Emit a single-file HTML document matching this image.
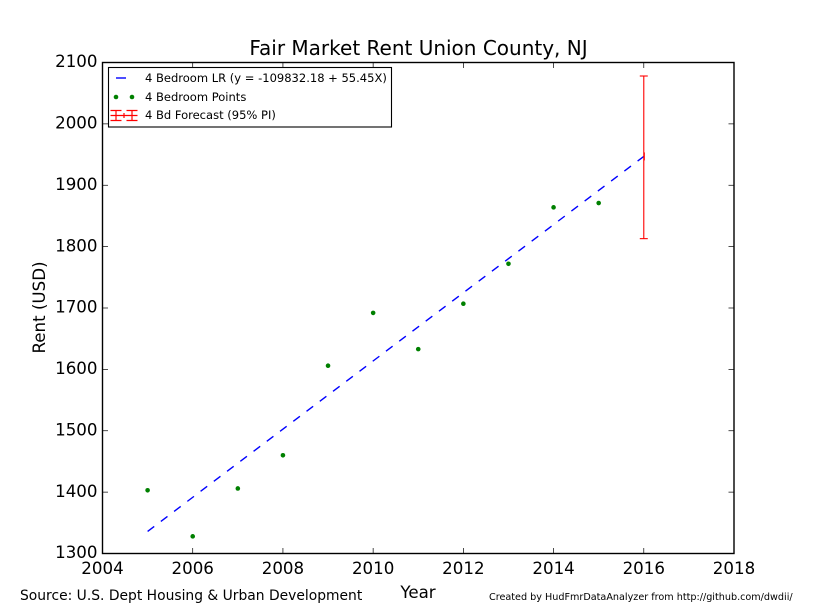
<!DOCTYPE html>
<html>
<head>
<meta charset="utf-8">
<style>
html,body{margin:0;padding:0;background:#fff;}
svg{display:block;font-family:"DejaVu Sans","Liberation Sans",sans-serif;}
</style>
</head>
<body>
<svg id="chart" width="815" height="615" viewBox="0 0 815 615" xmlns="http://www.w3.org/2000/svg">
<rect x="0" y="0" width="815" height="615" fill="#fff"/>
<text x="418.5" y="55" font-size="20" text-anchor="middle" fill="#000">Fair Market Rent Union County, NJ</text>
<g id="marks"></g>
<rect x="102.5" y="62.5" width="631.5" height="491" fill="none" stroke="#000" stroke-width="1.4"/>
<g id="ticks"></g>
<text x="418" y="598" font-size="16.67" text-anchor="middle" fill="#000">Year</text>
<text transform="translate(45 307.5) rotate(-90)" font-size="16.67" text-anchor="middle" fill="#000">Rent (USD)</text>
<g>
<rect x="108.5" y="67.5" width="283" height="59.5" fill="#fff" stroke="#000" stroke-width="1.1"/>
<line x1="116" y1="78" x2="126" y2="78" stroke="#00f" stroke-width="1.4"/>
<text x="145" y="82" font-size="11.53" fill="#000">4 Bedroom LR (y = -109832.18 + 55.45X)</text>
<circle cx="116" cy="97" r="2.3" fill="#008000"/>
<circle cx="132" cy="97" r="2.3" fill="#008000"/>
<text x="145" y="101" font-size="11.53" fill="#000">4 Bedroom Points</text>
<g stroke="#f00" stroke-width="1.2" fill="none">
<path d="M110.5 115.5H137.5M116 110.5V120.5M132 110.5V120.5M110.5 110.5H121.5M110.5 120.5H121.5M126.5 110.5H137.5M126.5 120.5H137.5M124 113V118"/>
</g>
<text x="145" y="119" font-size="11.53" fill="#000">4 Bd Forecast (95% PI)</text>
</g>
<text x="20" y="600" font-size="13.86" fill="#000">Source: U.S. Dept Housing &amp; Urban Development</text>
<text x="489" y="600" font-size="9.65" fill="#000">Created by HudFmrDataAnalyzer from http://github.com/dwdii/</text>
<script>
var years = [2005, 2006, 2007, 2008, 2009, 2010, 2011, 2012, 2013, 2014, 2015];
var rents = [1403, 1328, 1406, 1460, 1606, 1692, 1633, 1707, 1772, 1864, 1871];
var fitYears = [2005, 2016];
var fitRents = [1336, 1947];
var forecastYear = 2016;
var forecastMid = 1947;
var forecastLow = 1813;
var forecastHigh = 2078;
var xTicks = [2004, 2006, 2008, 2010, 2012, 2014, 2016, 2018];
var yTicks = [1300, 1400, 1500, 1600, 1700, 1800, 1900, 2000, 2100];

var NS = 'http://www.w3.org/2000/svg';
var L = 102.5, R = 734, T = 62.5, B = 553.5;
function xScale(v) { return L + (v - 2004) / (2018 - 2004) * (R - L); }
function yScale(v) { return B - (v - 1300) / (2100 - 1300) * (B - T); }
function make(parent, tag, attrs, text) {
  var el = document.createElementNS(NS, tag);
  for (var k in attrs) el.setAttribute(k, attrs[k]);
  if (text !== undefined) el.textContent = text;
  parent.appendChild(el);
  return el;
}
var marks = document.getElementById('marks');
var ticks = document.getElementById('ticks');

var fit = make(marks, 'line', {x1: xScale(fitYears[0]), y1: yScale(fitRents[0]), x2: xScale(fitYears[1]), y2: yScale(fitRents[1]), stroke: '#00f', 'stroke-width': 1.4, 'stroke-dasharray': '8.3 8.3'});



years.forEach(function (y, i) {
  var c = make(marks, 'circle', {cx: xScale(y), cy: yScale(rents[i]), r: 2.3, fill: '#008000'});
  
  
});

var fx = xScale(forecastYear);
var err = make(marks, 'line', {x1: fx, y1: yScale(forecastLow), x2: fx, y2: yScale(forecastHigh), stroke: '#f00', 'stroke-width': 1.1});


[forecastLow, forecastHigh].forEach(function (v) {
  var cap = make(marks, 'line', {x1: fx - 4, y1: yScale(v), x2: fx + 4, y2: yScale(v), stroke: '#f00', 'stroke-width': 1.1});
  
  
});
var mid = make(marks, 'line', {x1: fx + 0.5, y1: yScale(forecastMid) - 4, x2: fx + 0.5, y2: yScale(forecastMid) + 4, stroke: '#f00', 'stroke-width': 1.1});



xTicks.forEach(function (v) {
  var x = xScale(v);
  var t1 = make(ticks, 'line', {x1: x, y1: B, x2: x, y2: B - 5.5, stroke: '#000', 'stroke-width': 0.7});
  
  
  var t2 = make(ticks, 'line', {x1: x, y1: T, x2: x, y2: T + 5.5, stroke: '#000', 'stroke-width': 0.7});
  
  
  var lb = make(ticks, 'text', {x: x, y: 574, 'font-size': 16.67, 'text-anchor': 'middle', fill: '#000'}, String(v));
  
  
});
yTicks.forEach(function (v) {
  var y = yScale(v);
  var t1 = make(ticks, 'line', {x1: L, y1: y, x2: L + 5.5, y2: y, stroke: '#000', 'stroke-width': 0.7});
  
  
  var t2 = make(ticks, 'line', {x1: R, y1: y, x2: R - 5.5, y2: y, stroke: '#000', 'stroke-width': 0.7});
  
  
  var lb = make(ticks, 'text', {x: L - 5, y: y + 4.7, 'font-size': 16.67, 'text-anchor': 'end', fill: '#000'}, String(v));
  
  
});
</script>
</svg>
</body>
</html>
